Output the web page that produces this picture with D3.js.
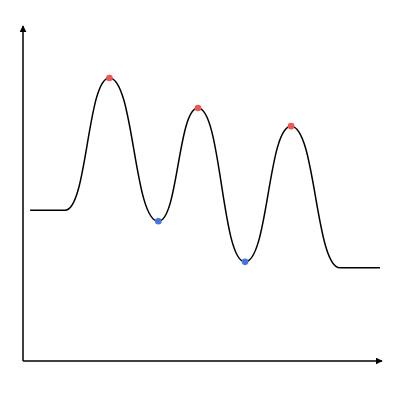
<!DOCTYPE html>
<html>
<head>
<meta charset="utf-8">
<script src="https://cdn.jsdelivr.net/npm/d3@7"></script>
<style>
  html, body { margin: 0; padding: 0; background: #fff; }
</style>
</head>
<body>
<div id="chart"></div>
<script>
// Curve key points (x, y in axis units 0..10)
const pointX = [0.2, 1.18, 2.42, 3.79, 4.9, 6.22, 7.51, 8.88, 10.0];
const pointY = [4.5, 4.5, 8.45, 4.17, 7.55, 2.96, 7.01, 2.78, 2.78];

// Marked extrema
const peakIdx = [2, 4, 6];
const troughIdx = [3, 5];

const width = 400;
const height = 400;

const svg = d3.select("#chart").append("svg")
    .attr("width", width)
    .attr("height", height);

const x = d3.scaleLinear().domain([0, 10]).range([23, 380]);
const y = d3.scaleLinear().domain([0, 10]).range([361, 26]);

// Arrowhead marker
svg.append("defs").append("marker")
    .attr("id", "arrow")
    .attr("viewBox", "0 0 10 10")
    .attr("refX", 9)
    .attr("refY", 5)
    .attr("markerWidth", 7)
    .attr("markerHeight", 7)
    .attr("markerUnits", "userSpaceOnUse")
    .attr("orient", "auto")
    .append("path")
    .attr("d", "M0,0 L10,5 L0,10 Z")
    .attr("fill", "#000");

// Axes (arrows only, no ticks)
svg.append("line")
    .attr("x1", x(0)).attr("y1", y(0))
    .attr("x2", x(0)).attr("y2", y(10))
    .attr("stroke", "#000")
    .attr("stroke-width", 1.5)
    .attr("marker-end", "url(#arrow)");

svg.append("line")
    .attr("x1", x(0)).attr("y1", y(0))
    .attr("x2", x(10) + 2).attr("y2", y(0))
    .attr("stroke", "#000")
    .attr("stroke-width", 1.5)
    .attr("marker-end", "url(#arrow)");

const data = pointX.map((v, i) => ({ x: v, y: pointY[i] }));

// flat tangent at every key point, like the reference
const line = d3.line()
    .x(d => x(d.x))
    .y(d => y(d.y))
    .curve(d3.curveBumpX);

svg.append("path")
    .datum(data)
    .attr("d", line)
    .attr("fill", "none")
    .attr("stroke", "#000")
    .attr("stroke-width", 1.5);

svg.selectAll("circle.peak")
    .data(peakIdx.map(i => data[i]))
    .enter()
    .append("circle")
    .attr("class", "peak")
    .attr("cx", d => x(d.x))
    .attr("cy", d => y(d.y))
    .attr("r", 3.3)
    .attr("fill", "#ee5555");

svg.selectAll("circle.trough")
    .data(troughIdx.map(i => data[i]))
    .enter()
    .append("circle")
    .attr("class", "trough")
    .attr("cx", d => x(d.x))
    .attr("cy", d => y(d.y))
    .attr("r", 3.3)
    .attr("fill", "#4477dd");
</script>
</body>
</html>
